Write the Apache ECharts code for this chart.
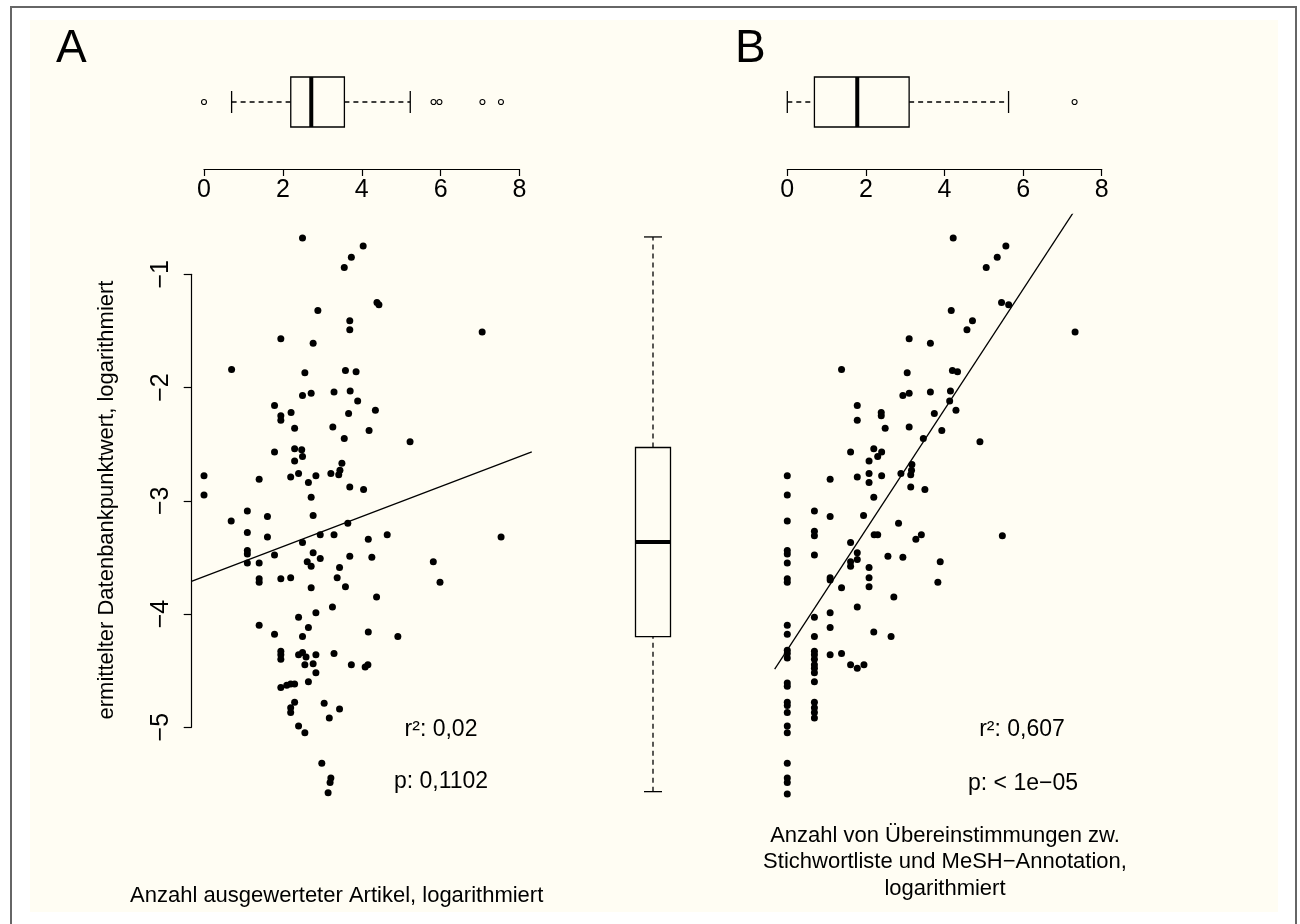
<!DOCTYPE html>
<html><head><meta charset="utf-8">
<script src="https://cdn.jsdelivr.net/npm/echarts@6/dist/echarts.min.js"></script>
<style>
html,body{margin:0;padding:0;background:#fff;overflow:hidden;width:1300px;height:924px;}
#frame{position:absolute;left:10px;top:6px;width:1287px;height:940px;border:2px solid #666;box-sizing:border-box;}
#cream{position:absolute;left:30px;top:20px;width:1248px;height:892px;background:#fffdf3;}
#chart{position:absolute;left:0;top:0;width:1300px;height:924px;}
</style></head>
<body>
<div id="frame"></div><div id="cream"></div><div id="chart"></div>
<script>
// ---- data ----
const xTicks = [0, 2, 4, 6, 8];
const yTicks = [-5, -4, -3, -2, -1];
// Panel A: x = Anzahl ausgewerteter Artikel (log), y = Datenbankpunktwert (log)
const scatterA = [
[2.50,-0.68],[4.04,-0.75],[3.74,-0.85],[3.56,-0.94],[4.39,-1.25],[4.44,-1.27],[2.89,-1.32],[3.70,-1.41],[3.70,-1.49],[7.06,-1.51],
[1.95,-1.57],[2.77,-1.61],[0.70,-1.84],[3.59,-1.85],[3.86,-1.86],[2.56,-1.87],[2.50,-2.07],[2.72,-2.05],[3.30,-2.04],[3.71,-2.03],
[3.90,-2.12],[1.79,-2.16],[2.21,-2.22],[1.95,-2.25],[1.95,-2.29],[3.67,-2.23],[4.35,-2.20],[2.30,-2.36],[3.27,-2.35],[4.19,-2.38],
[3.56,-2.45],[5.23,-2.48],[1.79,-2.57],[2.30,-2.54],[2.48,-2.55],[2.50,-2.61],[2.30,-2.65],[3.50,-2.67],[3.45,-2.73],[3.42,-2.77],
[3.22,-2.76],[0.00,-2.78],[1.40,-2.81],[2.20,-2.79],[2.40,-2.76],[2.84,-2.78],[2.65,-2.84],[3.70,-2.88],[4.05,-2.90],[0.00,-2.95],
[2.72,-2.97],[1.10,-3.09],[1.61,-3.14],[2.77,-3.13],
[0.69,-3.18],[1.10,-3.28],[1.61,-3.32],[3.65,-3.20],[2.95,-3.30],[3.30,-3.30],[2.50,-3.37],[4.17,-3.34],[4.65,-3.30],[7.54,-3.32],
[1.10,-3.44],[1.10,-3.47],[1.79,-3.48],[2.77,-3.46],[2.95,-3.51],[3.70,-3.49],[4.26,-3.50],
[1.10,-3.55],[1.40,-3.55],[2.62,-3.54],[2.72,-3.58],[3.44,-3.59],[5.82,-3.54],
[1.40,-3.69],[1.40,-3.72],[1.95,-3.69],[2.20,-3.68],[3.38,-3.68],[2.72,-3.77],[3.59,-3.76],[5.99,-3.72],
[4.38,-3.85],[3.26,-3.94],[2.84,-3.99],[2.40,-4.03],[1.40,-4.10],[2.65,-4.12],[1.79,-4.18],[2.50,-4.20],[4.17,-4.16],[4.92,-4.20],
[1.95,-4.33],[1.95,-4.36],[1.95,-4.40],[2.40,-4.36],[2.50,-4.34],[2.59,-4.38],[2.84,-4.36],[3.30,-4.35],
[2.56,-4.45],[2.77,-4.44],[2.84,-4.52],[3.74,-4.45],[4.09,-4.47],[4.16,-4.45],
[2.65,-4.60],[1.95,-4.65],[2.10,-4.63],[2.20,-4.62],[2.30,-4.62],
[2.30,-4.78],[2.20,-4.83],[2.20,-4.87],[3.05,-4.79],[3.44,-4.84],[3.18,-4.92],
[2.40,-4.99],[2.56,-5.05],
[2.99,-5.32],[3.22,-5.45],[3.20,-5.49],[3.15,-5.58]
];
// Panel B: x = Übereinstimmungen Stichwortliste/MeSH (log)
const scatterB = [
[4.22,-0.68],[5.56,-0.75],[5.34,-0.85],[5.06,-0.94],[5.45,-1.25],[5.63,-1.27],[4.17,-1.32],[4.71,-1.41],[4.57,-1.49],[7.32,-1.51],
[3.10,-1.57],[3.64,-1.61],[1.38,-1.84],[4.20,-1.85],[4.33,-1.86],[3.05,-1.87],[2.94,-2.07],[3.10,-2.05],[3.64,-2.04],[4.15,-2.03],
[4.13,-2.12],[1.78,-2.16],[2.39,-2.22],[2.39,-2.25],[1.78,-2.29],[3.74,-2.23],[4.29,-2.20],[2.49,-2.36],[3.10,-2.35],[3.93,-2.38],
[3.46,-2.45],[4.90,-2.48],[1.61,-2.57],[2.20,-2.54],[2.40,-2.57],[2.30,-2.61],[2.08,-2.65],[3.17,-2.68],[3.16,-2.73],[3.14,-2.77],
[2.89,-2.76],[0.00,-2.78],[1.09,-2.81],[1.78,-2.79],[2.08,-2.76],[2.40,-2.78],[2.08,-2.84],[3.14,-2.88],[3.50,-2.90],[0.00,-2.95],
[2.20,-2.97],[0.69,-3.09],[1.09,-3.14],[1.94,-3.13],
[0.00,-3.18],[2.83,-3.20],[0.69,-3.27],[0.69,-3.31],[2.21,-3.30],[2.30,-3.30],[3.27,-3.34],[3.41,-3.30],[5.47,-3.31],[1.61,-3.37],
[0.00,-3.44],[0.00,-3.47],[0.69,-3.48],[1.78,-3.46],[1.78,-3.52],[2.56,-3.49],[2.94,-3.50],
[0.00,-3.55],[1.61,-3.54],[1.61,-3.58],[2.08,-3.59],[3.89,-3.54],
[0.00,-3.69],[0.00,-3.72],[1.09,-3.68],[1.09,-3.70],[2.08,-3.68],[1.38,-3.77],[2.08,-3.76],[3.83,-3.72],
[2.71,-3.85],[1.78,-3.94],[1.09,-3.99],[0.69,-4.03],[0.00,-4.10],[1.09,-4.12],[0.00,-4.18],[0.69,-4.20],[2.20,-4.16],[2.64,-4.20],
[0.00,-4.32],[0.00,-4.35],[0.00,-4.39],[0.69,-4.33],[0.69,-4.36],[0.69,-4.40],[1.09,-4.36],[1.38,-4.35],
[0.69,-4.45],[0.69,-4.48],[0.69,-4.52],[1.61,-4.45],[1.78,-4.48],[1.95,-4.45],
[0.69,-4.60],[0.00,-4.61],[0.00,-4.64],
[0.00,-4.78],[0.00,-4.81],[0.00,-4.87],[0.69,-4.78],[0.69,-4.83],[0.69,-4.87],[0.69,-4.92],
[0.00,-4.99],[0.00,-5.05],
[0.00,-5.32],[0.00,-5.45],[0.00,-5.49],[0.00,-5.59]
];
// regression line end points (over the plot range)
const lineA = [[-0.32,-3.713],[8.32,-2.569]];
const lineB = [[-0.32,-4.487],[8.32,0.101]];
// box plots: [lower whisker, Q1, median, Q3, upper whisker]
const boxA = [0.70, 2.20, 2.72, 3.56, 5.23];
const outliersA = [0.00, 5.82, 5.97, 7.06, 7.53];
const boxB = [0.00, 0.69, 1.78, 3.10, 5.63];
const outliersB = [7.31];
const boxY = [-5.57, -4.20, -3.365, -2.53, -0.67];
const statsA = ['r²: 0,02', 'p: 0,1102'];
const statsB = ['r²: 0,607', 'p: < 1e\u221205'];
const xTitleA = 'Anzahl ausgewerteter Artikel, logarithmiert';
const xTitleB = 'Anzahl von Übereinstimmungen zw.\nStichwortliste und MeSH\u2212Annotation,\nlogarithmiert';
const yTitle = 'ermittelter Datenbankpunktwert, logarithmiert';

// ---- chart ----
const FONT = '"Liberation Sans", Arial, Helvetica, sans-serif';
const minus = v => String(v).replace('-', '\u2212');
const chart = echarts.init(document.getElementById('chart'), null, {renderer: 'canvas'});

function hBox(params, api) {
  const v = [0,1,2,3,4].map(i => api.coord([api.value(i), 0]));
  const cy = v[0][1], h = 50, c = 11;
  const st = {stroke: '#000', lineWidth: 1.3, fill: null};
  return {type: 'group', children: [
    {type: 'line', shape: {x1: v[0][0], y1: cy, x2: v[1][0], y2: cy}, style: {stroke: '#000', lineWidth: 1.3, lineDash: [5, 4]}},
    {type: 'line', shape: {x1: v[3][0], y1: cy, x2: v[4][0], y2: cy}, style: {stroke: '#000', lineWidth: 1.3, lineDash: [5, 4]}},
    {type: 'line', shape: {x1: v[0][0], y1: cy - c, x2: v[0][0], y2: cy + c}, style: st},
    {type: 'line', shape: {x1: v[4][0], y1: cy - c, x2: v[4][0], y2: cy + c}, style: st},
    {type: 'rect', shape: {x: v[1][0], y: cy - h / 2, width: v[3][0] - v[1][0], height: h}, style: {stroke: '#000', lineWidth: 1.3, fill: 'rgba(0,0,0,0)'}},
    {type: 'line', shape: {x1: v[2][0], y1: cy - h / 2, x2: v[2][0], y2: cy + h / 2}, style: {stroke: '#000', lineWidth: 4}}
  ]};
}
function vBox(params, api) {
  const v = [0,1,2,3,4].map(i => api.coord([0, api.value(i)]));
  const cx = v[0][0], w = 35, c = 9;
  const st = {stroke: '#000', lineWidth: 1.3, fill: null};
  return {type: 'group', children: [
    {type: 'line', shape: {x1: cx, y1: v[0][1], x2: cx, y2: v[1][1]}, style: {stroke: '#000', lineWidth: 1.3, lineDash: [5, 4]}},
    {type: 'line', shape: {x1: cx, y1: v[3][1], x2: cx, y2: v[4][1]}, style: {stroke: '#000', lineWidth: 1.3, lineDash: [5, 4]}},
    {type: 'line', shape: {x1: cx - c, y1: v[0][1], x2: cx + c, y2: v[0][1]}, style: st},
    {type: 'line', shape: {x1: cx - c, y1: v[4][1], x2: cx + c, y2: v[4][1]}, style: st},
    {type: 'rect', shape: {x: cx - w / 2, y: v[3][1], width: w, height: v[1][1] - v[3][1]}, style: {stroke: '#000', lineWidth: 1.3, fill: 'rgba(0,0,0,0)'}},
    {type: 'line', shape: {x1: cx - w / 2, y1: v[2][1], x2: cx + w / 2, y2: v[2][1]}, style: {stroke: '#000', lineWidth: 4}}
  ]};
}

const topX = (i) => ({
  type: 'value', gridIndex: i, min: 0, max: 8, interval: 2, position: 'bottom', offset: 25,
  axisLine: {show: true, onZero: false, lineStyle: {color: '#000', width: 1.2}},
  axisTick: {show: true, length: 7, lineStyle: {color: '#000', width: 1.2}},
  axisLabel: {color: '#000', fontSize: 25, fontFamily: FONT, margin: 9,
    formatter: v => xTicks.includes(v) ? minus(v) : ''},
  splitLine: {show: false}
});
const hidden = (i, min, max) => ({type: 'value', gridIndex: i, min, max, show: false, splitLine: {show: false}});

const option = {
  animation: false,
  backgroundColor: 'transparent',
  textStyle: {fontFamily: FONT},
  grid: [
    {left: 204, top: 60, width: 315.5, height: 84},
    {left: 787.3, top: 60, width: 314.4, height: 84},
    {left: 191.4, top: 214.3, width: 340.4, height: 601.1},
    {left: 774.7, top: 214.3, width: 339.7, height: 601.1},
    {left: 618, top: 214.3, width: 70, height: 601.1},
    {left: 191.7, top: 274.3, width: 100, height: 452.9}
  ],
  xAxis: [
    topX(0), topX(1),
    hidden(2, -0.32, 8.32), hidden(3, -0.32, 8.32),
    {type: 'category', gridIndex: 4, data: ['Datenbankpunktwert'], show: false},
    hidden(5, 0, 1)
  ],
  yAxis: [
    hidden(0, -1, 1), hidden(1, -1, 1),
    hidden(2, -5.78, -0.47), hidden(3, -5.78, -0.47), hidden(4, -5.78, -0.47),
    {type: 'value', gridIndex: 5, min: -5, max: -1, interval: 1, position: 'left',
     axisLine: {show: true, onZero: false, lineStyle: {color: '#000', width: 1.2}},
     axisTick: {show: true, length: 8, lineStyle: {color: '#000', width: 1.2}},
     axisLabel: {color: '#000', fontSize: 25, fontFamily: FONT, rotate: 90, margin: 18,
       formatter: v => yTicks.includes(v) ? minus(v) : ''},
     splitLine: {show: false}}
  ],
  series: [
    {type: 'custom', xAxisIndex: 0, yAxisIndex: 0, renderItem: hBox, data: [boxA], silent: true},
    {type: 'scatter', xAxisIndex: 0, yAxisIndex: 0, data: outliersA.map(v => [v, 0]), symbol: 'circle', symbolSize: 5,
     itemStyle: {color: 'rgba(0,0,0,0)', borderColor: '#000', borderWidth: 1.1, opacity: 1}, silent: true},
    {type: 'custom', xAxisIndex: 1, yAxisIndex: 1, renderItem: hBox, data: [boxB], silent: true},
    {type: 'scatter', xAxisIndex: 1, yAxisIndex: 1, data: outliersB.map(v => [v, 0]), symbol: 'circle', symbolSize: 5,
     itemStyle: {color: 'rgba(0,0,0,0)', borderColor: '#000', borderWidth: 1.1, opacity: 1}, silent: true},
    {type: 'scatter', xAxisIndex: 2, yAxisIndex: 2, data: scatterA, symbol: 'circle', symbolSize: 7,
     itemStyle: {color: '#000', opacity: 1}, silent: true},
    {type: 'line', xAxisIndex: 2, yAxisIndex: 2, data: lineA, symbol: 'none', clip: true,
     lineStyle: {color: '#000', width: 1.3}, silent: true},
    {type: 'scatter', xAxisIndex: 3, yAxisIndex: 3, data: scatterB, symbol: 'circle', symbolSize: 7,
     itemStyle: {color: '#000', opacity: 1}, silent: true},
    {type: 'line', xAxisIndex: 3, yAxisIndex: 3, data: lineB, symbol: 'none', clip: true,
     lineStyle: {color: '#000', width: 1.3}, silent: true},
    {type: 'custom', xAxisIndex: 4, yAxisIndex: 4, renderItem: vBox, data: [boxY], silent: true},
    {type: 'scatter', xAxisIndex: 5, yAxisIndex: 5, data: [], silent: true}
  ],
  graphic: [
    {type: 'text', left: 56, top: 26, style: {text: 'A', font: '46px ' + FONT, fill: '#000'}},
    {type: 'text', left: 735, top: 26, style: {text: 'B', font: '46px ' + FONT, fill: '#000'}},
    {type: 'text', x: 441, y: 730, style: {text: statsA[0], font: '23px ' + FONT, fill: '#000', align: 'center', verticalAlign: 'middle'}},
    {type: 'text', x: 441, y: 782, style: {text: statsA[1], font: '23px ' + FONT, fill: '#000', align: 'center', verticalAlign: 'middle'}},
    {type: 'text', x: 1022, y: 730, style: {text: statsB[0], font: '23px ' + FONT, fill: '#000', align: 'center', verticalAlign: 'middle'}},
    {type: 'text', x: 1023, y: 784, style: {text: statsB[1], font: '23px ' + FONT, fill: '#000', align: 'center', verticalAlign: 'middle'}},
    {type: 'text', x: 130, y: 896, style: {text: xTitleA, font: '22px ' + FONT, fill: '#000', align: 'left', verticalAlign: 'middle'}},
    {type: 'text', x: 945, y: 862, style: {text: xTitleB, font: '22px ' + FONT, fill: '#000', align: 'center', verticalAlign: 'middle', lineHeight: 26.5}},
    {type: 'text', x: 107, y: 500, rotation: Math.PI / 2, style: {text: yTitle, font: '22px ' + FONT, fill: '#000', align: 'center', verticalAlign: 'middle'}}
  ]
};
chart.setOption(option);
</script>
</body></html>
